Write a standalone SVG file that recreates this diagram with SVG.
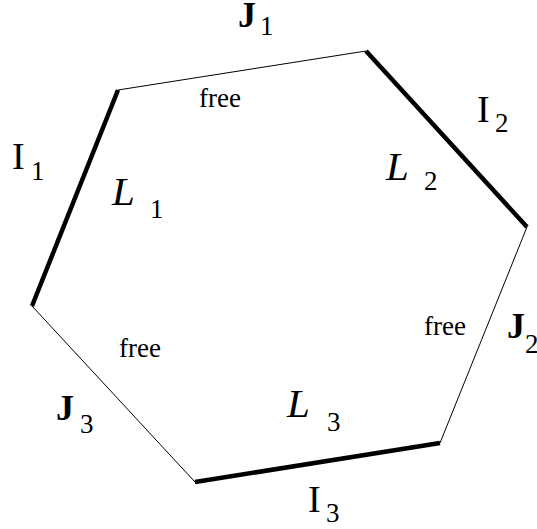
<svg xmlns="http://www.w3.org/2000/svg" width="537" height="529" viewBox="0 0 537 529">
<style>
.thin{stroke:#000;stroke-width:1;fill:none}
.thick{stroke:#000;stroke-width:4.5;fill:none;stroke-linecap:butt}
text{font-family:"Liberation Serif","DejaVu Serif","Times New Roman",serif;fill:#000}
.big{font-size:38px}
.bj{font-size:36px;font-weight:bold}
.it{font-size:41px;font-style:italic}
.sub{font-size:27px}
.free{font-size:27px}
</style>
<rect width="537" height="529" fill="#fff"/>
<g id="edges">
<line class="thin" x1="118" y1="90" x2="366" y2="51"/>
<line class="thick" x1="366" y1="51" x2="527" y2="227"/>
<line class="thin" x1="527" y1="227" x2="440" y2="443"/>
<line class="thick" x1="440" y1="443" x2="195" y2="482"/>
<line class="thin" x1="195" y1="482" x2="32" y2="306"/>
<line class="thick" x1="32" y1="306" x2="118" y2="90"/>
</g>
<g id="labels">
<g id="J1"><text class="bj" x="238" y="27">J</text><text class="sub" x="260" y="35">1</text></g>
<g id="I1"><text class="big" x="12" y="169">I</text><text class="sub" x="31" y="180">1</text></g>
<g id="I2"><text class="big" x="477" y="122">I</text><text class="sub" x="495" y="132">2</text></g>
<g id="J2"><text class="bj" x="507" y="338">J</text><text class="sub" x="525" y="353">2</text></g>
<g id="J3"><text class="bj" x="56" y="420">J</text><text class="sub" x="80" y="433">3</text></g>
<g id="I3"><text class="big" x="308" y="512">I</text><text class="sub" x="326" y="522">3</text></g>
<g id="L1"><text class="it" x="112" y="205">L</text><text class="sub" x="150" y="218">1</text></g>
<g id="L2"><text class="it" x="386" y="180">L</text><text class="sub" x="424" y="190">2</text></g>
<g id="L3"><text class="it" x="287" y="417">L</text><text class="sub" x="327" y="431">3</text></g>
<text class="free" x="199" y="107">free</text>
<text class="free" x="424" y="335">free</text>
<text class="free" x="119" y="357">free</text>
</g>
</svg>
